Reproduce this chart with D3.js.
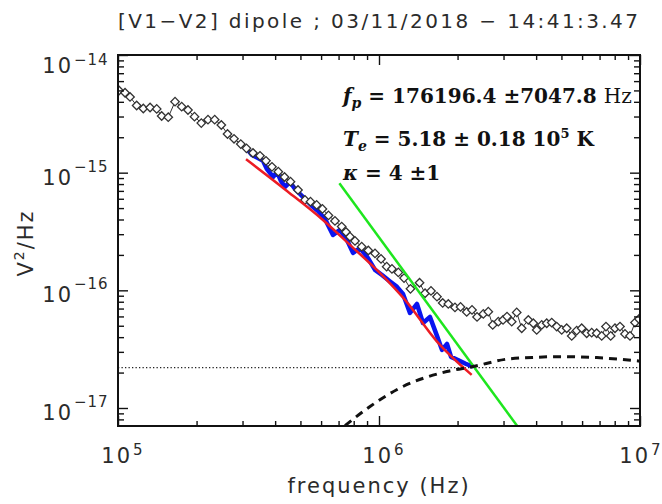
<!DOCTYPE html>
<html>
<head>
<meta charset="utf-8">
<script src="https://cdn.jsdelivr.net/npm/d3@7"></script>
<style>
	body { margin: 0; background: #fff; }
	.sans { font-family: "DejaVu Sans", sans-serif; fill: #2b2b2b; letter-spacing: 2px; }
	.note { font-family: "DejaVu Serif", serif; font-weight: bold; fill: #111; }
</style>
</head>
<body>
<div id="chart"></div>
<script>
var svgWidth = 662;
var svgHeight = 504;

var margin = {
	top: 55,
	right: 22,
	bottom: 78,
	left: 118
};

var width = svgWidth - margin.left - margin.right;
var height = svgHeight - margin.top - margin.bottom;

// measured spectrum (black diamonds)
var freq = [1.009e5, 1.064e5, 1.112e5, 1.179e5, 1.250e5, 1.327e5, 1.407e5, 1.470e5, 1.558e5, 1.654e5,
	1.754e5, 1.854e5, 1.964e5, 2.085e5, 2.212e5, 2.347e5, 2.488e5, 2.628e5, 2.783e5, 2.954e5,
	3.106e5, 3.290e5, 3.500e5, 3.690e5, 3.890e5, 4.114e5, 4.345e5, 4.581e5, 4.894e5, 5.205e5,
	5.463e5, 5.769e5, 6.072e5, 6.403e5, 6.781e5, 7.194e5, 7.473e5, 7.742e5, 8.091e5, 8.584e5,
	9.100e5, 9.654e5, 1.018e6, 1.070e6, 1.121e6, 1.186e6, 1.247e6, 1.320e6, 1.430e6, 1.501e6,
	1.582e6, 1.668e6, 1.754e6, 1.843e6, 1.955e6, 2.053e6, 2.168e6, 2.272e6, 2.375e6, 2.510e6,
	2.623e6, 2.727e6, 2.865e6, 2.987e6, 3.094e6, 3.225e6, 3.370e6, 3.522e6, 3.733e6, 3.901e6,
	4.020e6, 4.202e6, 4.391e6, 4.589e6, 4.796e6, 5.012e6, 5.238e6, 5.474e6, 5.721e6, 5.979e6,
	6.248e6, 6.530e6, 6.824e6, 7.132e6, 7.407e6, 7.721e6, 8.020e6, 8.382e6, 8.760e6, 9.155e6,
	9.568e6, 9.911e6];
var psd = [4.99e-15, 4.78e-15, 4.40e-15, 3.72e-15, 3.51e-15, 3.58e-15, 3.48e-15, 3.03e-15, 2.96e-15, 4.01e-15,
	3.64e-15, 3.41e-15, 2.99e-15, 2.64e-15, 2.82e-15, 2.82e-15, 2.54e-15, 2.13e-15, 1.94e-15, 1.75e-15,
	1.61e-15, 1.47e-15, 1.39e-15, 1.26e-15, 1.12e-15, 1.02e-15, 9.19e-16, 8.39e-16, 7.13e-16, 5.87e-16,
	5.67e-16, 5.32e-16, 4.92e-16, 4.33e-16, 3.89e-16, 3.48e-16, 3.13e-16, 2.86e-16, 2.63e-16, 2.35e-16,
	2.18e-16, 2.06e-16, 1.85e-16, 1.59e-16, 1.52e-16, 1.42e-16, 1.27e-16, 1.03e-16, 1.16e-16, 9.45e-17,
	9.88e-17, 8.84e-17, 7.81e-17, 7.66e-17, 7.16e-17, 7.23e-17, 6.55e-17, 6.82e-17, 5.94e-17, 6.30e-17,
	6.59e-17, 5.08e-17, 5.42e-17, 5.60e-17, 5.98e-17, 5.42e-17, 6.49e-17, 4.76e-17, 5.60e-17, 5.25e-17,
	4.61e-17, 5.08e-17, 5.25e-17, 5.32e-17, 4.92e-17, 4.61e-17, 4.76e-17, 4.10e-17, 4.55e-17, 4.76e-17,
	4.32e-17, 4.37e-17, 4.32e-17, 4.10e-17, 4.92e-17, 4.10e-17, 4.76e-17, 4.92e-17, 4.26e-17, 4.10e-17,
	5.32e-17, 5.71e-17];

// spectrum used for the fit (blue)
var fitFreq = [3.106e5, 3.262e5, 3.439e5, 3.594e5, 3.723e5, 3.926e5, 4.067e5, 4.213e5, 4.364e5, 4.560e5,
	4.766e5, 4.981e5, 5.251e5, 5.537e5, 5.838e5, 6.155e5, 6.320e5, 6.664e5, 7.088e5, 7.540e5,
	7.950e5, 8.456e5, 9.076e5, 9.654e5, 1.027e6, 1.102e6, 1.172e6, 1.236e6, 1.314e6, 1.398e6,
	1.474e6, 1.568e6, 1.668e6, 1.743e6, 1.822e6, 1.888e6, 2.007e6, 2.136e6, 2.292e6];
var fitPsd = [1.61e-15, 1.41e-15, 1.33e-15, 1.26e-15, 1.07e-15, 9.19e-16, 1.01e-15, 8.50e-16, 7.56e-16, 8.34e-16,
	7.27e-16, 6.59e-16, 5.87e-16, 5.21e-16, 4.73e-16, 4.13e-16, 3.74e-16, 2.96e-16, 3.26e-16, 2.68e-16,
	2.08e-16, 2.29e-16, 1.88e-16, 1.49e-16, 1.35e-16, 1.19e-16, 1.07e-16, 9.32e-17, 6.43e-17, 7.66e-17,
	5.28e-17, 5.94e-17, 4.10e-17, 3.12e-17, 3.50e-17, 2.72e-17, 2.56e-17, 2.39e-17, 2.24e-17];

// kappa model (red)
var modelFreq = [3.093e5, 4.364e5, 6.10e5, 7.742e5, 1.009e6, 1.258e6, 1.668e6, 2.265e6];
var modelPsd = [1.30e-15, 7.20e-16, 3.96e-16, 2.43e-16, 1.40e-16, 8.29e-17, 3.67e-17, 1.91e-17];

// f^-3 reference (green)
var slopeFreq = [7.05e5, 3.39e6];
var slopePsd = [8.13e-16, 7.0e-18];

// noise spectrum (dashed)
var noiseFreq = [7.41e5, 9.24e5, 1.169e6, 1.817e6, 2.298e6, 3.085e6, 4.02e6, 4.94e6, 6.83e6, 1.0e7];
var noisePsd = [7.09e-18, 1.03e-17, 1.43e-17, 2.04e-17, 2.25e-17, 2.60e-17, 2.70e-17, 2.73e-17, 2.68e-17, 2.50e-17];

// level (dotted)
var floorLevel = 2.2e-17;

var xMajor = [1e5, 1e6, 1e7];
var xExp = ["5", "6", "7"];
var yMajor = [1e-14, 1e-15, 1e-16, 1e-17];
var yExp = ["\u221214", "\u221215", "\u221216", "\u221217"];

var titleText = "[V1\u2212V2] dipole ; 03/11/2018 \u2212 14:41:3.47";

// minor ticks at 2..9 of each decade
var xMinor = [];
[1e5, 1e6].forEach(function(d) {
	for (var k = 2; k <= 9; k++) xMinor.push(k * d);
});
var yMinor = [8e-18, 9e-18];
[1e-17, 1e-16, 1e-15].forEach(function(d) {
	for (var k = 2; k <= 9; k++) yMinor.push(k * d);
});

var svg = d3
	.select("#chart")
	.append("svg")
	.attr("width", svgWidth)
	.attr("height", svgHeight);

var chartGroup = svg.append("g")
	.attr("transform", `translate(${margin.left}, ${margin.top})`);

var xScale = d3.scaleLog()
	.domain([1e5, 1e7])
	.range([0, width]);

var yScale = d3.scaleLog()
	.domain([7.03e-18, 1e-14])
	.range([height, 0]);

svg.append("defs").append("clipPath")
	.attr("id", "plotClip")
	.append("rect")
	.attr("width", width)
	.attr("height", height);

var plot = chartGroup.append("g").attr("clip-path", "url(#plotClip)");

var line = d3.line()
	.x(d => xScale(d[0]))
	.y(d => yScale(d[1]));

// dotted level
plot.append("path")
	.datum([[1e5, floorLevel], [1e7, floorLevel]])
	.attr("d", line)
	.attr("fill", "none")
	.attr("stroke", "#222")
	.attr("stroke-width", 1.2)
	.attr("stroke-dasharray", "1.3 2.2");

// blue fit data
plot.append("path")
	.datum(d3.zip(fitFreq, fitPsd))
	.attr("d", line)
	.attr("fill", "none")
	.attr("stroke", "#0a14f0")
	.attr("stroke-width", 4.5)
	.attr("stroke-linejoin", "round");

// measured spectrum
var spec = d3.zip(freq, psd);
plot.append("path")
	.datum(spec)
	.attr("d", line)
	.attr("fill", "none")
	.attr("stroke", "#333")
	.attr("stroke-width", 1);

plot.selectAll(".dia")
	.data(spec)
	.enter()
	.append("path")
	.attr("class", "dia")
	.attr("d", d3.symbol().type(d3.symbolSquare).size(36))
	.attr("transform", d => `translate(${xScale(d[0])}, ${yScale(d[1])}) rotate(45)`)
	.attr("fill", "#fff")
	.attr("stroke", "#333")
	.attr("stroke-width", 1.3);

// model
plot.append("path")
	.datum(d3.zip(modelFreq, modelPsd))
	.attr("d", line.curve(d3.curveMonotoneX))
	.attr("fill", "none")
	.attr("stroke", "#ec1c24")
	.attr("stroke-width", 2.5);
line.curve(d3.curveLinear);

// f^-3 line
plot.append("path")
	.datum(d3.zip(slopeFreq, slopePsd))
	.attr("d", line)
	.attr("fill", "none")
	.attr("stroke", "#1ee61e")
	.attr("stroke-width", 2.5);

// noise
plot.append("path")
	.datum(d3.zip(noiseFreq, noisePsd))
	.attr("d", line.curve(d3.curveMonotoneX))
	.attr("fill", "none")
	.attr("stroke", "#111")
	.attr("stroke-width", 3)
	.attr("stroke-dasharray", "8 6");

// axes: inside ticks on all four sides
function addAxis(axis, values, size, transform) {
	var g = chartGroup.append("g")
		.attr("transform", transform)
		.call(axis.tickValues(values).tickSize(size).tickSizeOuter(0).tickFormat(""));
	g.select(".domain").remove();
	g.selectAll("line").attr("stroke", "#111").attr("stroke-width", 1.4);
}

addAxis(d3.axisBottom(xScale), xMajor, -10, `translate(0, ${height})`);
addAxis(d3.axisBottom(xScale), xMinor, -5, `translate(0, ${height})`);
addAxis(d3.axisTop(xScale), xMajor, -10, "translate(0, 0)");
addAxis(d3.axisTop(xScale), xMinor, -5, "translate(0, 0)");
addAxis(d3.axisLeft(yScale), yMajor, -10, "translate(0, 0)");
addAxis(d3.axisLeft(yScale), yMinor, -6, "translate(0, 0)");
addAxis(d3.axisRight(yScale), yMajor, -10, `translate(${width}, 0)`);
addAxis(d3.axisRight(yScale), yMinor, -6, `translate(${width}, 0)`);

chartGroup.append("rect")
	.attr("width", width)
	.attr("height", height)
	.attr("fill", "none")
	.attr("stroke", "#111")
	.attr("stroke-width", 2);

// tick labels
yMajor.forEach(function(v, i) {
	var yy = yScale(v);
	chartGroup.append("text")
		.attr("class", "sans")
		.attr("x", -45)
		.attr("y", Math.max(yy + 12, 18))
		.attr("text-anchor", "end")
		.style("font-size", "21px")
		.text("10");
	chartGroup.append("text")
		.attr("class", "sans")
		.attr("x", -44)
		.attr("y", Math.max(yy - 1, 10))
		.style("font-size", "15px")
		.style("letter-spacing", "1px")
		.text(yExp[i]);
});

xMajor.forEach(function(v, i) {
	var xx = Math.min(xScale(v) + 14, width + 10);
	chartGroup.append("text")
		.attr("class", "sans")
		.attr("x", xx)
		.attr("y", height + 37)
		.attr("text-anchor", "end")
		.style("font-size", "21px")
		.text("10");
	chartGroup.append("text")
		.attr("class", "sans")
		.attr("x", xx + 1)
		.attr("y", height + 29)
		.style("font-size", "15px")
		.style("letter-spacing", "0px")
		.text(xExp[i]);
});

// axis titles
chartGroup.append("text")
	.attr("class", "sans")
	.attr("x", width / 2)
	.attr("y", height + 67)
	.attr("text-anchor", "middle")
	.style("font-size", "21px")
	.text("frequency (Hz)");

var yTitle = chartGroup.append("text")
	.attr("class", "sans")
	.attr("transform", "rotate(-90)")
	.attr("x", -188)
	.attr("y", -85)
	.attr("text-anchor", "middle")
	.style("font-size", "21px");
yTitle.append("tspan").text("V");
yTitle.append("tspan").attr("dy", -9).style("font-size", "14px").text("2");
yTitle.append("tspan").attr("dy", 9).text("/Hz");

svg.append("text")
	.attr("class", "sans")
	.attr("x", margin.left)
	.attr("y", 28)
	.attr("textLength", 520)
	.attr("lengthAdjust", "spacing")
	.style("font-size", "20px")
	.style("letter-spacing", "0px")
	.text(titleText);

// fit results
var notes = chartGroup.append("g").attr("class", "note").style("font-size", "20px");

var n1 = notes.append("text").attr("x", 225).attr("y", 48);
n1.append("tspan").style("font-style", "italic").text("f");
n1.append("tspan").style("font-style", "italic").style("font-size", "14px").attr("dy", 5).text("p");
n1.append("tspan").attr("dy", -5).text(" = 176196.4 \u00b17047.8 ");
n1.append("tspan").style("font-weight", "normal").text("Hz");

var n2 = notes.append("text").attr("x", 225).attr("y", 90.5);
n2.append("tspan").style("font-style", "italic").text("T");
n2.append("tspan").style("font-style", "italic").style("font-size", "14px").attr("dy", 5).text("e");
n2.append("tspan").attr("dy", -5).text(" = 5.18  \u00b1 0.18 10");
n2.append("tspan").attr("dy", -8).style("font-size", "13px").text("5");
n2.append("tspan").attr("dy", 8).text(" K");

var n3 = notes.append("text").attr("x", 225).attr("y", 125);
n3.append("tspan").style("font-style", "italic").text("\u03ba");
n3.append("tspan").text(" = 4 \u00b11");
</script>
</body>
</html>
